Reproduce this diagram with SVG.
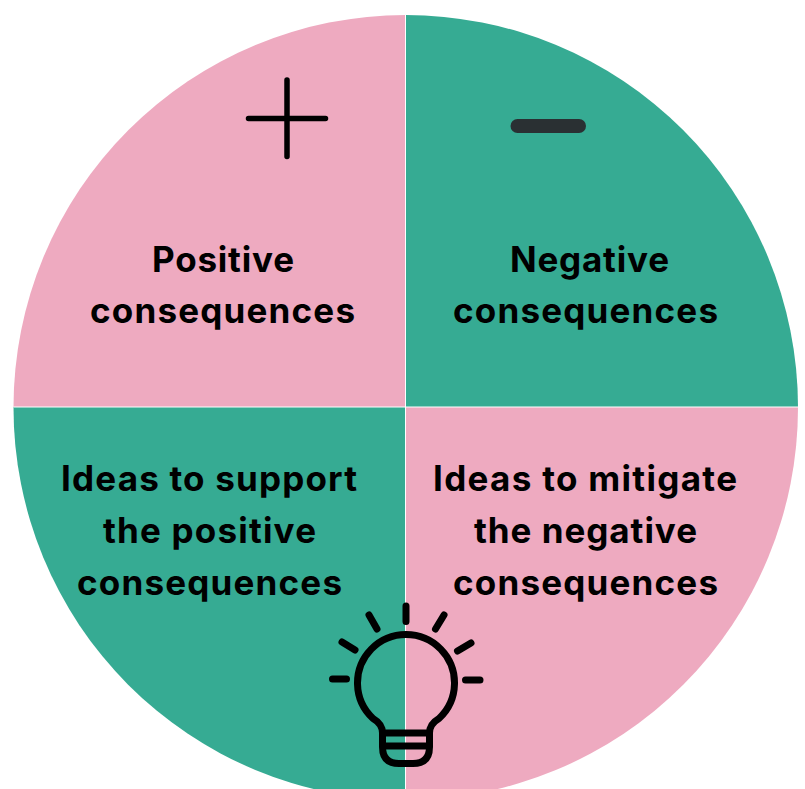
<svg xmlns="http://www.w3.org/2000/svg" width="805" height="789" viewBox="0 0 805 789">
<style>
.t{font-family:"Inter","Liberation Sans",sans-serif;font-weight:700;font-size:35px;text-anchor:middle;fill:#000}
.ic{fill:none;stroke:#000;stroke-linecap:round;stroke-linejoin:round}
</style>
<rect width="805" height="789" fill="#fff"/>
<g id="q-positive"><path d="M405.500 407V15A392.500 392.500 0 0 0 13.500 407Z" fill="#eeaac0"/><path class="ic" stroke-width="5.500" d="M287 80V156.500M248.500 118.500H325.500"/><text class="t" x="223" y="272" textLength="142" lengthAdjust="spacing">Positive</text><text class="t" x="222.500" y="323" textLength="265" lengthAdjust="spacing">consequences</text></g>
<g id="q-negative"><path d="M405.500 407V15A392.500 392.500 0 0 1 798 407Z" fill="#36ab93"/><rect x="510.500" y="119" width="75.500" height="14" rx="7" fill="#2a3033"/><text class="t" x="589.500" y="272" textLength="159" lengthAdjust="spacing">Negative</text><text class="t" x="585.500" y="323" textLength="265" lengthAdjust="spacing">consequences</text></g>
<g id="q-support"><path d="M405.500 407V800A392.500 392.500 0 0 1 13.500 407Z" fill="#36ab93"/><text class="t" x="209" y="491" textLength="296" lengthAdjust="spacing">Ideas to support</text><text class="t" x="209.500" y="543" textLength="213" lengthAdjust="spacing">the positive</text><text class="t" x="209.500" y="595" textLength="265" lengthAdjust="spacing">consequences</text></g>
<g id="q-mitigate"><path d="M405.500 407V800A392.500 392.500 0 0 0 798 407Z" fill="#eeaac0"/><text class="t" x="585" y="491" textLength="304" lengthAdjust="spacing">Ideas to mitigate</text><text class="t" x="585.500" y="543" textLength="223" lengthAdjust="spacing">the negative</text><text class="t" x="585.500" y="595" textLength="265" lengthAdjust="spacing">consequences</text></g>
<g id="dividers" stroke="#fff" stroke-width="1"><path d="M405.500 15V789M13.500 407H798"/></g>
<g id="bulb" class="ic" stroke-width="7"><path d="M382.500 733C382.500 727 379 722 373 718.500A48.500 48.500 0 1 1 439 718.500C433 722 429.500 727 429.500 733V747Q429.500 763.500 413 763.500H399Q382.500 763.500 382.500 747ZM382.500 733H429.500M382.500 746H429.500"/><path d="M406 606V621.500M369 615L377 629M342 642L355 650M332.500 679H346.500M465.500 680H480M457.500 651L471 643M435.500 629L444 615"/></g>
</svg>
